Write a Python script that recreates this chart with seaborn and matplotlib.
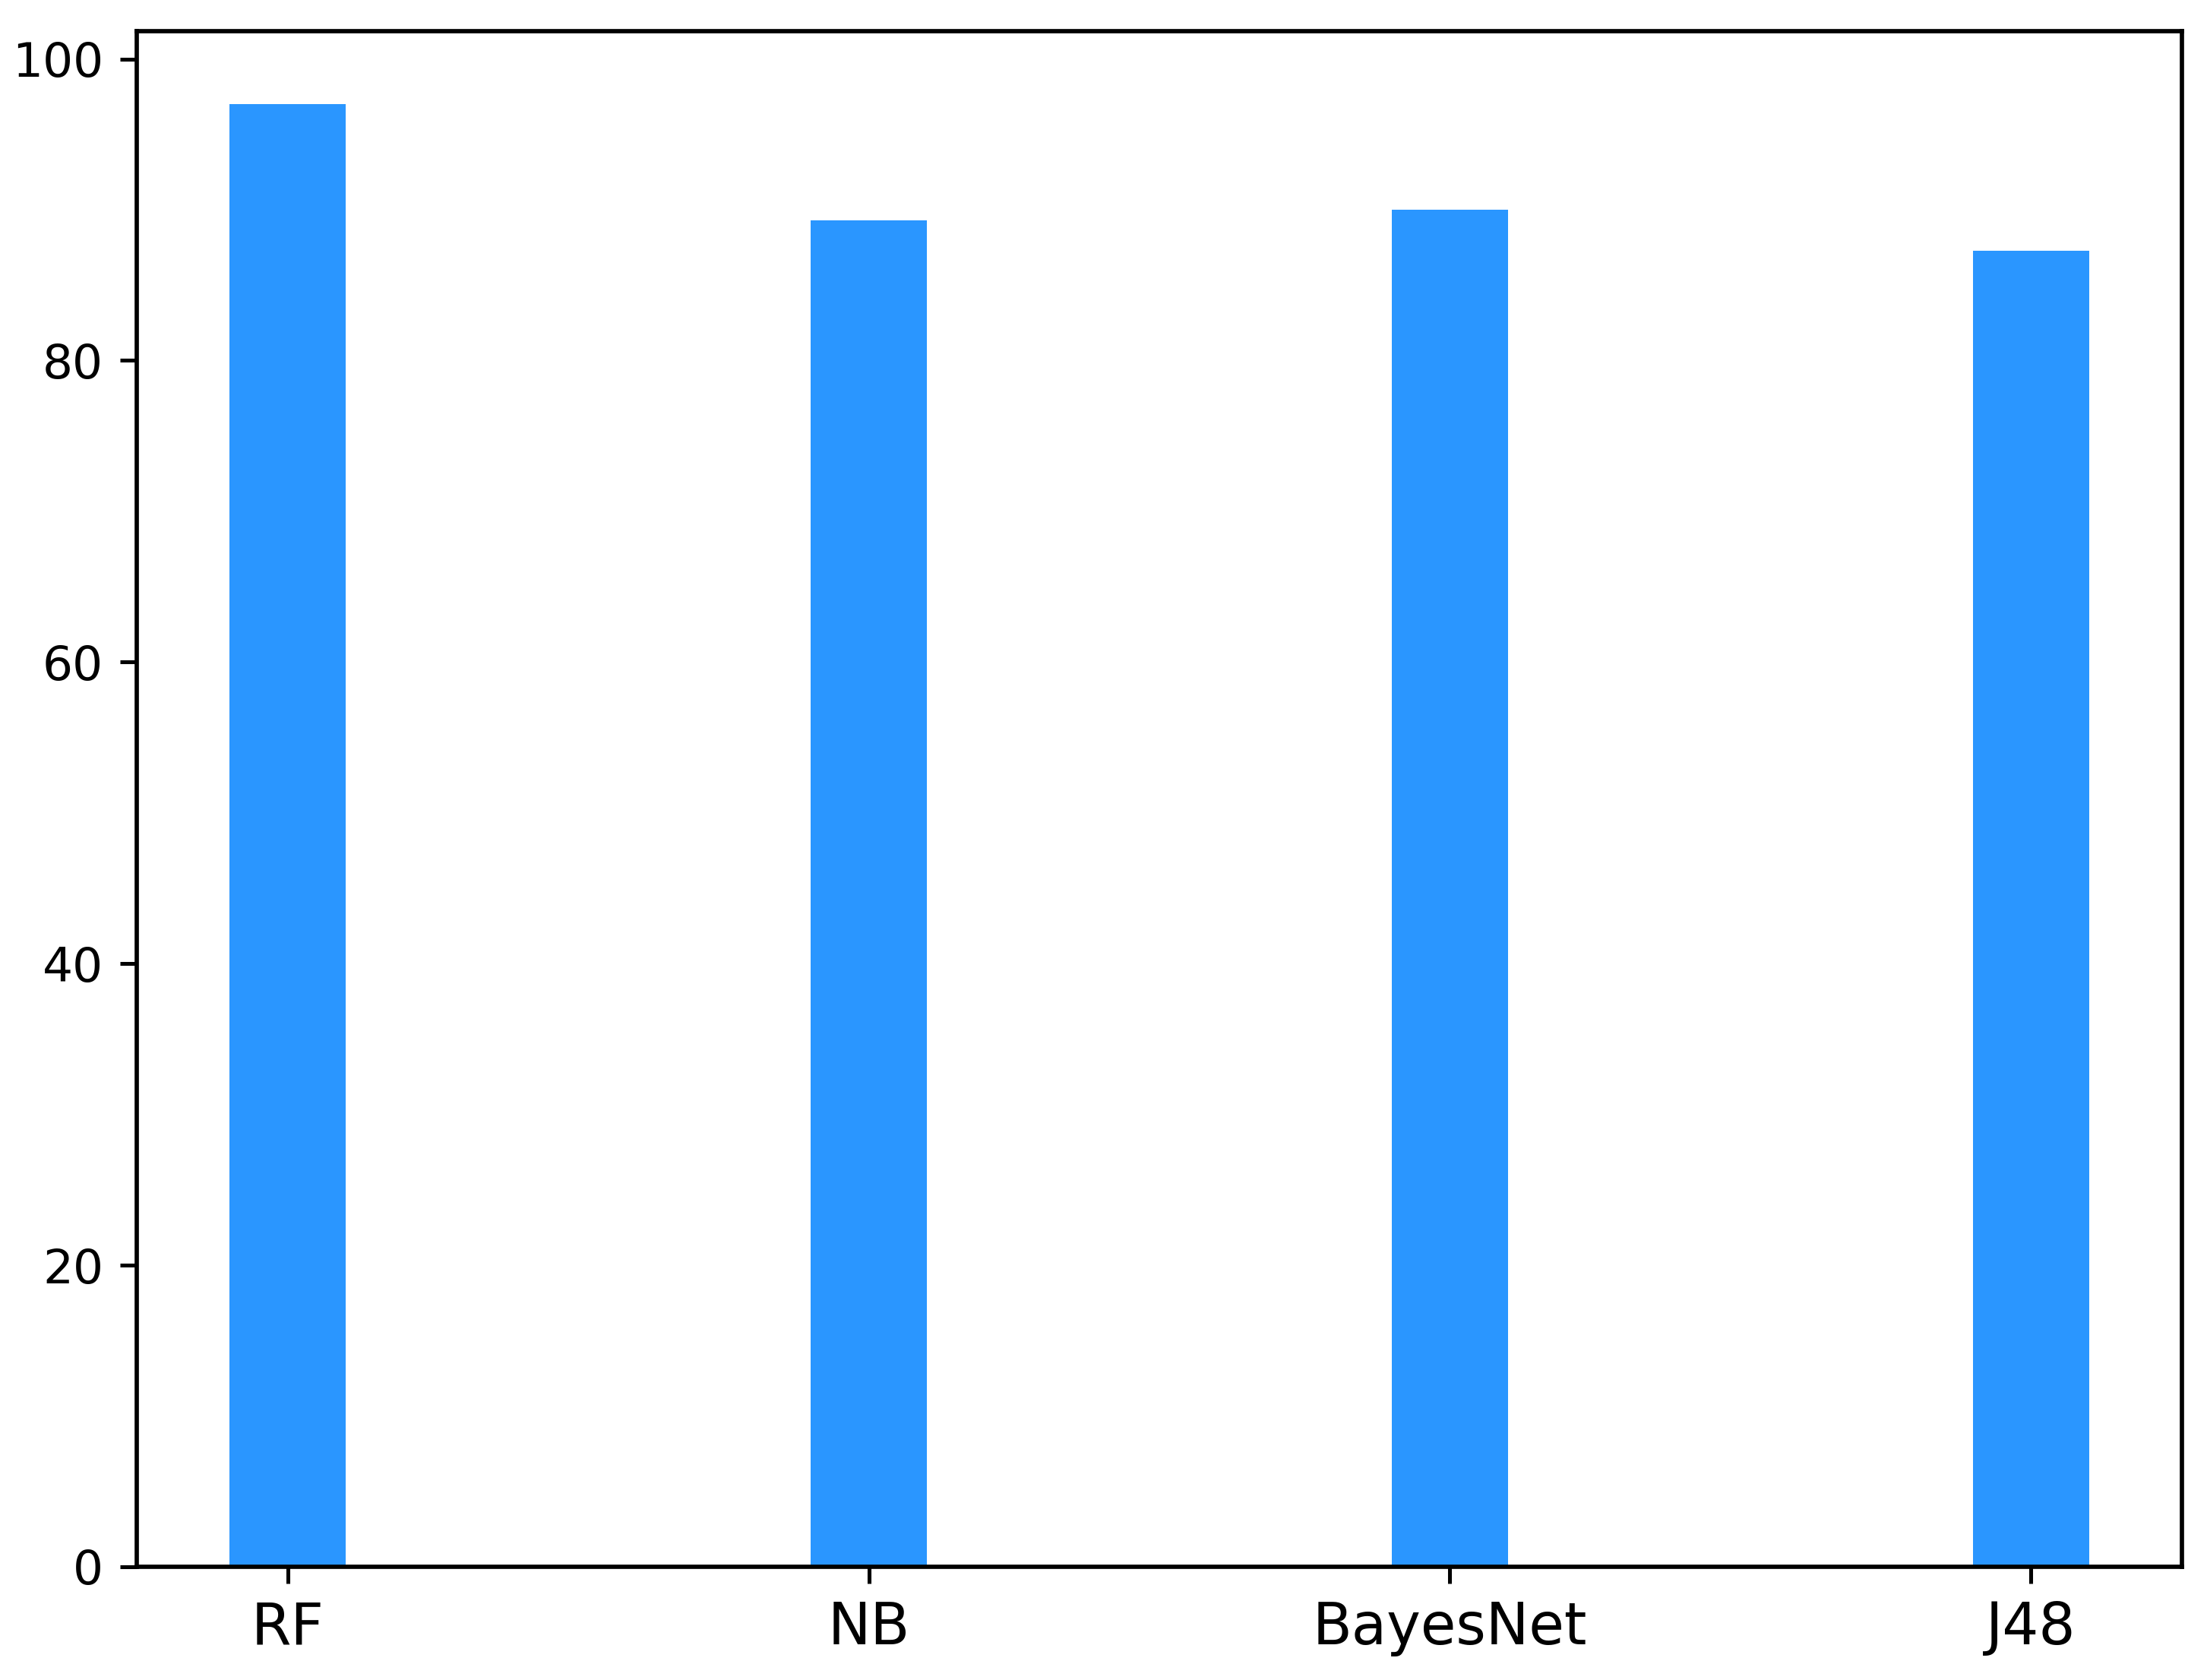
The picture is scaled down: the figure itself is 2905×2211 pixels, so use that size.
import pandas as pd
import matplotlib
matplotlib.use("Agg")
import matplotlib.pyplot as plt
import seaborn as sns

# classifier accuracies (%)
classifiers = ["RF", "NB", "BayesNet", "J48"]
accuracy = [97.0, 89.3, 90.0, 87.3]

df = pd.DataFrame({"classifier": classifiers, "accuracy": accuracy})

fig = plt.figure(figsize=(2905 / 454, 2211 / 454), dpi=454)
ax = fig.add_axes([0.062, 0.0674, 0.9266, 0.9141])

sns.barplot(data=df, x="classifier", y="accuracy", color="#2a96ff",
            width=0.2, saturation=1, errorbar=None, ax=ax)

ax.set_xlim(-0.26, 3.26)
ax.set_ylim(0, max(accuracy) * 1.05)
ax.set_yticks([0, 20, 40, 60, 80, 100])
ax.set_xlabel("")
ax.set_ylabel("")
ax.tick_params(axis="x", labelsize=12)
ax.tick_params(axis="y", labelsize=10)
for s in ax.spines.values():
    s.set_visible(True)
    s.set_color("black")
    s.set_linewidth(0.9)

fig.savefig("out.png", dpi=454)
